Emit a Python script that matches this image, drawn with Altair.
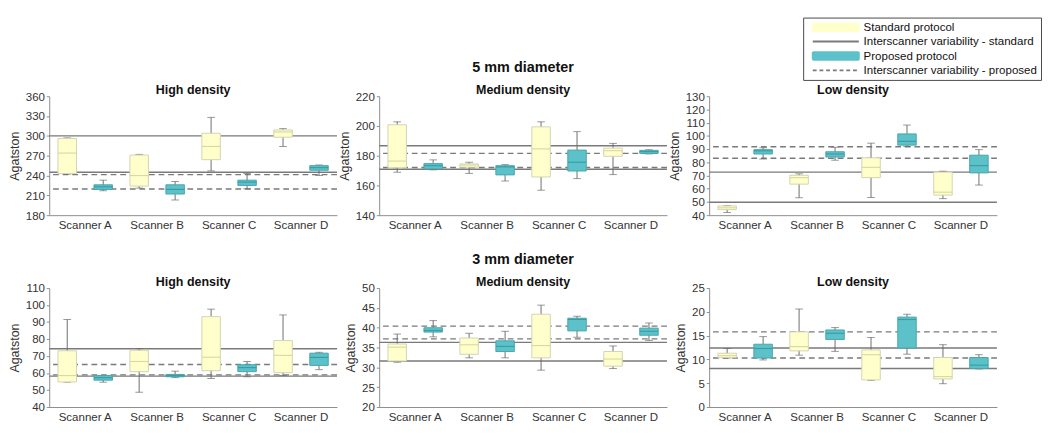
import altair as alt
import pandas as pd

FONT = "Liberation Sans"

scanners = ["Scanner A", "Scanner B", "Scanner C", "Scanner D"]
STD = "Standard protocol"
IV_STD = "Interscanner variability - standard"
PROP = "Proposed protocol"
IV_PROP = "Interscanner variability - proposed"
series_order = [STD, IV_STD, PROP, IV_PROP]
series_colors = ["#ffffcc", "#7a7a7a", "#5cc1c9", "#7a7a7a"]

# [min, q1, median, q3, max] per scanner A..D
hi5_std = [[242, 243, 274, 296, 297], [221, 224, 240, 271, 272], [247, 264, 284, 304, 328], [284, 298, 306, 309, 311]]
hi5_prop = [[217, 219, 223, 226, 233], [203, 212, 219, 226, 231], [220, 225, 230, 233, 243], [240, 248, 252, 255, 256]]
hi5_lines_std = [245, 300]
hi5_lines_prop = [219.6, 241.3]

med5_std = [[168.9, 171.9, 176.4, 200.8, 202.8], [168.1, 172.3, 173.7, 174.5, 175.6], [156.8, 165.7, 184.6, 199.4, 202.8], [167.3, 179.6, 183.4, 185.1, 188.3]]
med5_prop = [[170.5, 171.1, 173.3, 174.7, 177.2], [163, 167.1, 172.5, 173.3, 174], [164.6, 169.7, 175.6, 183.8, 196.2], [181.2, 181.6, 182.8, 183.6, 184]]
med5_lines_std = [170.9, 186.7]
med5_lines_prop = [172.1, 181.6]

low5_std = [[42, 44.2, 45.6, 47, 47.2], [53.2, 63.5, 68.4, 70.2, 71.3], [53.4, 68.4, 76.2, 83.4, 94.5], [52.5, 55.2, 57.4, 72.6, 73.3]]
low5_prop = [[82.5, 86.3, 88.7, 89.6, 91], [81.6, 84, 86.3, 88, 91.4], [92.1, 93, 95.9, 101.5, 108.2], [62.8, 72, 77.5, 85.4, 89.6]]
low5_lines_std = [49.8, 72.6]
low5_lines_prop = [83.1, 91.8]

hi3_std = [[54.6, 54.75, 58.5, 73.1, 91.5], [48.7, 60.8, 66.8, 73.4, 74.3], [56.8, 61.4, 69.3, 93.2, 97.6], [58.5, 60.2, 70.4, 79.1, 94.2]]
hi3_prop = [[54.6, 55.8, 57.3, 58.5, 58.5], [57.3, 57.8, 58.5, 59.2, 61.1], [57.8, 60.8, 63.2, 64.9, 66.8], [62, 64.5, 69.2, 71.7, 72.2]]
hi3_lines_std = [58.2, 74.3]
hi3_lines_prop = [58.9, 65]

med3_std = [[31.3, 31.6, 35.1, 35.9, 38.4], [32.4, 33.3, 35.7, 37.4, 38.6], [29.3, 32.4, 35.5, 43.4, 45.7], [29.7, 30.3, 32.1, 34, 35.4]]
med3_prop = [[37.7, 38.9, 39.3, 40, 41.8], [32.4, 34, 35.3, 36.7, 39.1], [37.6, 39.2, 42.1, 42.4, 42.9], [36.8, 38.1, 39.1, 39.9, 41.2]]
med3_lines_std = [31.6, 36.3]
med3_lines_prop = [37.2, 40.4]

low3_std = [[10.3, 10.4, 10.8, 11.3, 12.3], [10.9, 11.8, 12.7, 15.8, 20.6], [5.6, 5.7, 11, 12, 14.6], [4.9, 5.9, 6.4, 10.4, 13.1]]
low3_prop = [[9.9, 10.3, 12.3, 13.2, 14.8], [11.7, 14.2, 15.5, 16.2, 16.7], [11.1, 12.4, 18.4, 18.9, 19.5], [8, 8.1, 8.8, 10.4, 11]]
low3_lines_std = [8.1, 12.4]
low3_lines_prop = [10.3, 15.8]

y_domains = [[180, 360], [140, 220], [40, 130], [40, 110], [20, 50], [0, 25]]
y_ticks = [list(range(180, 361, 30)), list(range(140, 221, 20)), list(range(40, 131, 10)),
           list(range(40, 111, 10)), list(range(20, 51, 5)), list(range(0, 26, 5))]
section_titles = [" ", "5 mm diameter", " ", " ", "3 mm diameter", " "]
density_titles = ["High density", "Medium density", "Low density"] * 2

PW, PH = 300, 124

color_scale = alt.Scale(domain=series_order, range=series_colors)
is_line = "indexof(datum.value, 'Interscanner') >= 0"
legend = alt.Legend(
    title=None, orient="none", legendX=786, legendY=-82, direction="vertical",
    strokeColor="#444", fillColor="white", padding=4,
    labelFont=FONT, labelFontSize=12, labelColor="#111", labelLimit=400,
    rowPadding=1, symbolSize=64, symbolOffset=24, labelOffset=23,
    symbolStrokeWidth=2,
    symbolType={"expr": is_line + " ? 'M-6,0H6' : 'M-6,-1H6V1H-6Z'"},
    symbolStrokeColor={"expr": is_line + " ? '#111111' : '#c4c4c4'"},
    symbolDash={"expr": "datum.value == '" + IV_PROP + "' ? [4, 3] : [1, 0]"},
)


def box_df(std, prop):
    rows = []
    for proto, vals in ((STD, std), (PROP, prop)):
        for sc, (mn, q1, md, q3, mx) in zip(scanners, vals):
            rows.append(dict(scanner=sc, series=proto, lo=mn, q1=q1, med=md, q3=q3, hi=mx))
    return pd.DataFrame(rows)


def line_df(std_lines, prop_lines):
    rows = [dict(series=IV_STD, value=v) for v in std_lines]
    rows += [dict(series=IV_PROP, value=v) for v in prop_lines]
    return pd.DataFrame(rows)


def panel(i, std, prop, lstd, lprop):
    bdf = box_df(std, prop)
    ldf = line_df(lstd, lprop)
    ysc = alt.Scale(domain=y_domains[i], nice=False, zero=False)
    yax = alt.Axis(title="Agatston", values=y_ticks[i], grid=False, titlePadding=4)
    x = alt.X("scanner:N", scale=alt.Scale(domain=scanners, paddingInner=0, paddingOuter=0),
              axis=alt.Axis(title=None, labelAngle=0, ticks=False, labelPadding=5))
    xo = alt.XOffset("series:N", scale=alt.Scale(domain=[STD, PROP], paddingInner=0.486, paddingOuter=0.243))
    col = alt.Color("series:N", scale=color_scale, legend=legend)

    lines = alt.Chart(ldf).mark_rule(strokeWidth=1.4).encode(
        y=alt.Y("value:Q", scale=ysc, axis=yax),
        color=col,
        strokeDash=alt.StrokeDash("series:N", scale=alt.Scale(domain=[IV_STD, IV_PROP], range=[[1, 0], [6, 4]]), legend=None),
    )
    base = alt.Chart(bdf)
    whisk = base.mark_rule(color="#6a6a6a", strokeWidth=1).encode(
        x=x, xOffset=xo, y=alt.Y("lo:Q", scale=ysc, axis=yax), y2="hi:Q")
    caps = base.transform_fold(["lo", "hi"], as_=["k", "v"]).mark_tick(
        color="#6a6a6a", size=8, thickness=1).encode(x=x, xOffset=xo, y=alt.Y("v:Q", scale=ysc, axis=yax))
    box_std = base.transform_filter(alt.datum.series == STD).mark_bar(
        stroke="#d2d2b4", strokeWidth=1).encode(
        x=x, xOffset=xo, y=alt.Y("q1:Q", scale=ysc, axis=yax), y2="q3:Q", color=col)
    box_prop = base.transform_filter(alt.datum.series == PROP).mark_bar(
        stroke="#46a6ae", strokeWidth=1).encode(
        x=x, xOffset=xo, y=alt.Y("q1:Q", scale=ysc, axis=yax), y2="q3:Q", color=col)
    med_std = base.transform_filter(alt.datum.series == STD).mark_tick(
        color="#c9c993", size=19, thickness=1.2).encode(x=x, xOffset=xo, y=alt.Y("med:Q", scale=ysc, axis=yax))
    med_prop = base.transform_filter(alt.datum.series == PROP).mark_tick(
        color="#2a8e95", size=19, thickness=1.2).encode(x=x, xOffset=xo, y=alt.Y("med:Q", scale=ysc, axis=yax))

    title = alt.Title(
        text=section_titles[i], subtitle=density_titles[i], anchor="middle", frame="group",
        font=FONT, fontSize=15, fontWeight="bold", color="#111",
        subtitleFont=FONT, subtitleFontSize=13, subtitleFontWeight="bold", subtitleColor="#111",
        subtitlePadding=10, offset=-7,
    )
    return alt.layer(lines, whisk, caps, box_std, box_prop, med_std, med_prop).properties(
        width=PW, height=PH, title=title)


panels = [
    panel(0, hi5_std, hi5_prop, hi5_lines_std, hi5_lines_prop),
    panel(1, med5_std, med5_prop, med5_lines_std, med5_lines_prop),
    panel(2, low5_std, low5_prop, low5_lines_std, low5_lines_prop),
    panel(3, hi3_std, hi3_prop, hi3_lines_std, hi3_lines_prop),
    panel(4, med3_std, med3_prop, med3_lines_std, med3_lines_prop),
    panel(5, low3_std, low3_prop, low3_lines_std, low3_lines_prop),
]

chart = alt.concat(*panels, columns=3, spacing={"row": 76, "column": 44}, bounds="flush").properties(
    padding={"left": 0, "top": 0, "right": 0, "bottom": 0}
).configure_view(stroke=None).configure_axis(
    domainColor="#8a8a8a", tickColor="#8a8a8a", labelColor="#333", titleColor="#333",
    labelFont=FONT, titleFont=FONT, labelFontSize=12, titleFontSize=13, titleFontWeight="normal",
    tickSize=3, grid=False,
)

chart.save("out.html", embed_options={"renderer": "svg", "actions": False})
